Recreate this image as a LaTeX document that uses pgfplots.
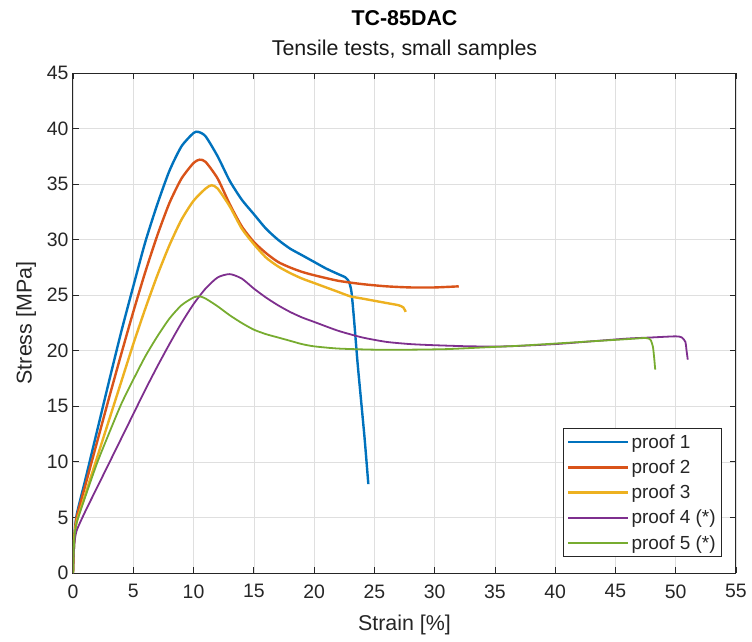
\documentclass[border=0pt]{standalone}
\usepackage{pgfplots}
\pgfplotsset{compat=1.18}
\usepackage{fontspec}
\setmainfont{Liberation Sans}
\definecolor{mblue}{rgb}{0,0.447,0.741}
\definecolor{morange}{rgb}{0.85,0.325,0.098}
\definecolor{myellow}{rgb}{0.929,0.694,0.125}
\definecolor{mpurple}{rgb}{0.494,0.184,0.556}
\definecolor{mgreen}{rgb}{0.466,0.674,0.188}
\definecolor{axgray}{gray}{0.15}
\begin{document}
\begin{tikzpicture}
\begin{axis}[
  at={(0,0)}, anchor=south west,
  scale only axis, width=663bp, height=500bp,
  xmin=0, xmax=55, ymin=0, ymax=45,
  xtick={0,5,...,55}, ytick={0,5,...,45},
  grid=major,
  major grid style={gray!25, line width=0.6bp},
  axis line style={axgray, line width=1bp},
  tick style={axgray, line width=0.8bp},
  tick align=inside, tick pos=both, major tick length=6bp,
  /pgf/number format/assume math mode=true,
  ticklabel style={font=\fontsize{19.5}{22}\selectfont, text=axgray},
  xticklabel style={yshift=-8bp},
  yticklabel style={xshift=-1bp},
  label style={font=\fontsize{21.5}{24}\selectfont, text=axgray},
  xlabel={Strain [\%]},
  ylabel={Stress [MPa]},
  xlabel style={yshift=-10bp},
  ylabel style={yshift=4bp},
  legend style={at={(0.979,0.032)}, anchor=south east,
    font=\fontsize{19}{21}\selectfont, draw=axgray, line width=0.8bp,
    inner xsep=4bp, inner ysep=4bp, row sep=6bp, text=axgray},
  legend cell align=left,
  legend image code/.code={\draw[#1] (0bp,0bp) -- (60bp,0bp);},
  clip=true,
  every axis plot/.append style={smooth, tension=0.4},
]
\addplot[mblue, line width=2.4bp] coordinates {
(0,0)(0.1,3)(0.3,5.2)(1,8.3)(2,12.8)(3,17.3)(4,21.7)(5,25.8)(6,29.8)(7,33.2)(8,36.2)(9,38.4)(10,39.6)(10.4,39.7)(11,39.3)(12,37.5)(13,35.3)(14,33.6)(15,32.3)(16,31)(17,30)(18,29.2)(19,28.6)(20,28)(21,27.4)(22,26.9)(22.6,26.6)(22.9,26.2)(23.1,25.3)(23.3,23)(23.6,19)(23.9,15.5)(24.2,12)(24.5,8)
};
\addlegendentry{proof 1}
\addplot[morange, line width=2.4bp] coordinates {
(0,0)(0.1,3)(0.3,5)(1,7.8)(2,11.8)(3,15.8)(4,19.7)(5,23.5)(6,27.1)(7,30.4)(8,33.3)(9,35.5)(10,36.9)(10.5,37.2)(11,37)(12,35.5)(13,33.2)(14,31.2)(15,29.8)(16,28.8)(17,28)(18,27.5)(19,27.1)(20,26.8)(22,26.3)(24,26)(26,25.8)(28,25.7)(30,25.7)(32,25.8)
};
\addlegendentry{proof 2}
\addplot[myellow, line width=2.4bp] coordinates {
(0,0)(0.1,3)(0.3,4.6)(1,7)(2,10.4)(3,13.8)(4,17.2)(5,20.6)(6,23.8)(7,26.8)(8,29.5)(9,31.8)(10,33.5)(11,34.6)(11.5,34.9)(12,34.6)(13,33)(14,31)(15,29.6)(16,28.4)(17,27.6)(18,27)(19,26.5)(20,26.1)(21,25.7)(22,25.3)(23,24.9)(24,24.7)(25,24.5)(26,24.3)(27,24.1)(27.4,23.9)(27.6,23.5)
};
\addlegendentry{proof 3}
\addplot[mpurple, line width=1.8bp, forget plot] coordinates {
(0,0)(0.1,2.5)(0.3,3.8)(1,5.5)(2,7.7)(3,9.9)(4,12.1)(5,14.3)(6,16.5)(7,18.6)(8,20.6)(9,22.5)(10,24.2)(11,25.6)(12,26.6)(13,26.9)(14,26.5)(15,25.6)(16,24.8)(17,24.1)(18,23.5)(19,23)(20,22.6)(22,21.8)(24,21.2)(26,20.8)(28,20.6)(30,20.5)(33,20.4)(36,20.4)(40,20.6)(43,20.85)(46,21.1)(48,21.2)(50,21.3)(50.5,21.2)(50.8,20.8)(50.9,20)(51,19.2)
};
\addlegendimage{mpurple, line width=2.4bp}
\addlegendentry{proof 4 (*)}
\addplot[mgreen, line width=1.8bp, forget plot] coordinates {
(0,0)(0.1,3)(0.3,4.5)(1,6.8)(2,9.9)(3,12.6)(4,15.2)(5,17.4)(6,19.5)(7,21.3)(8,22.9)(9,24.1)(10,24.8)(10.5,24.9)(11,24.7)(12,24)(13,23.2)(14,22.5)(15,21.9)(16,21.5)(17,21.2)(18,20.9)(19,20.6)(20,20.4)(22,20.2)(25,20.1)(28,20.1)(31,20.15)(34,20.3)(37,20.45)(40,20.65)(43,20.85)(46,21.05)(47.5,21.15)(47.9,21)(48.1,20.4)(48.2,19.5)(48.3,18.3)
};
\addlegendimage{mgreen, line width=2.4bp}
\addlegendentry{proof 5 (*)}
\end{axis}
\node[font=\fontsize{21.5}{24}\selectfont\bfseries, text=black] at (331.5bp,555bp) {TC-85DAC};
\node[font=\fontsize{21.5}{24}\selectfont, text=black!90] at (331.5bp,523bp) {Tensile tests, small samples};
\pgfresetboundingbox
\path[use as bounding box] (-73bp,-69bp) rectangle (679bp,573bp);
\end{tikzpicture}
\end{document}
